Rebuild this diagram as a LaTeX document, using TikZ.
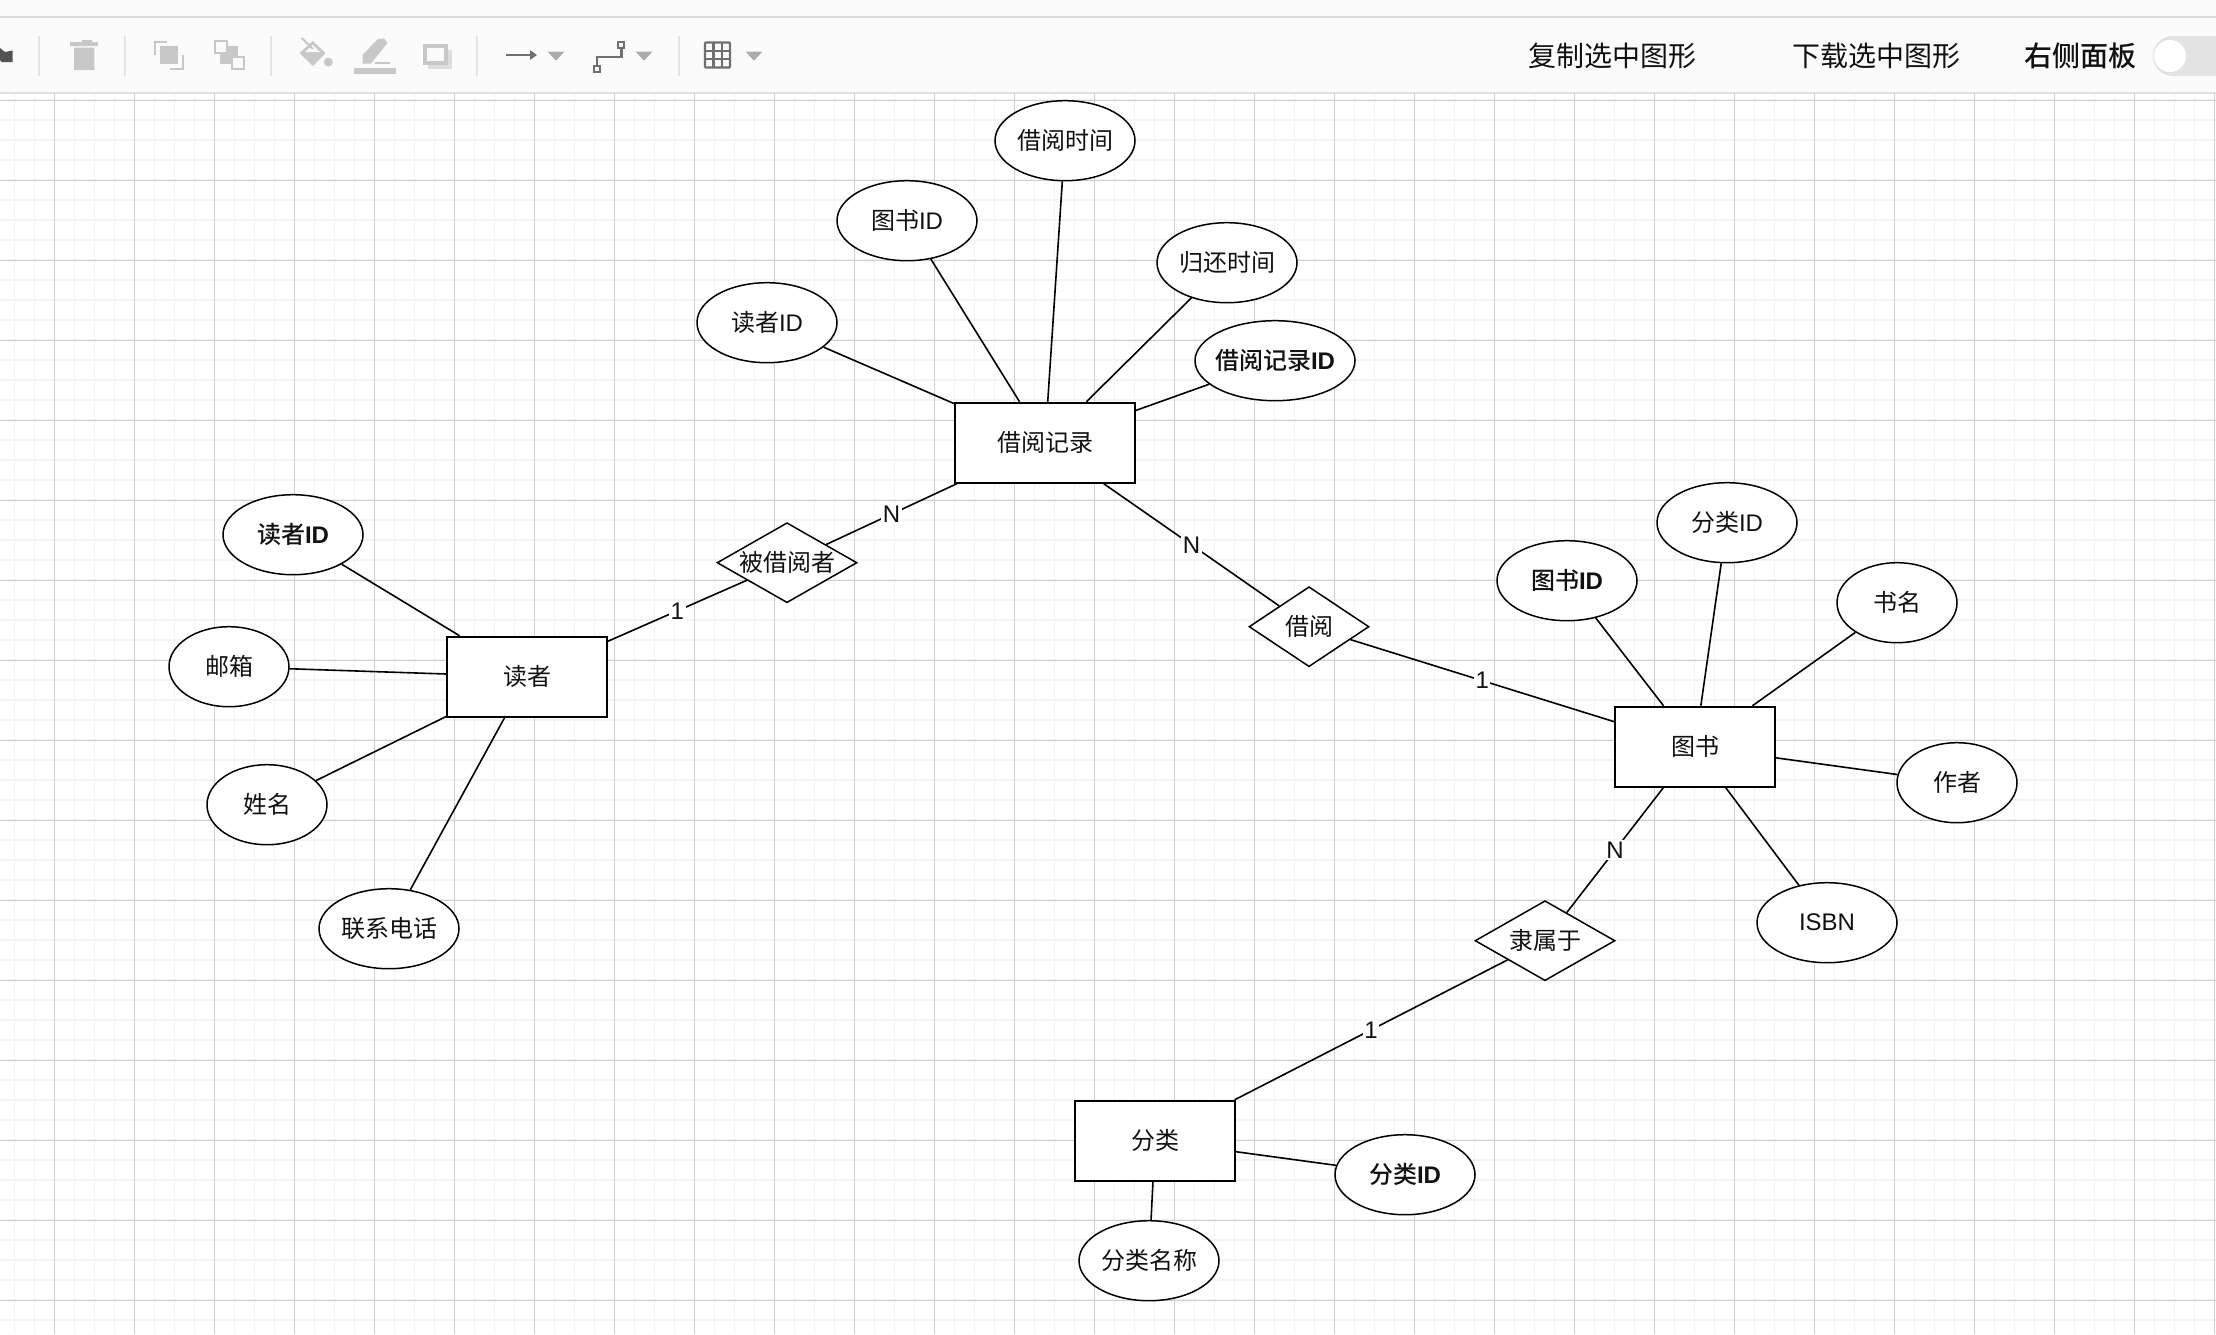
\documentclass[tikz,border=0pt]{standalone}
\usepackage{fontspec}
\setmainfont{Noto Sans CJK SC}[BoldFont={Noto Sans CJK SC Medium}]
\newfontfamily\latfont{Liberation Sans}
\usetikzlibrary{shapes.geometric}
\definecolor{barbg}{HTML}{FBFBFB}
\definecolor{barline}{HTML}{D8DADE}
\definecolor{gridminor}{HTML}{F3F3F3}
\definecolor{gridmajor}{HTML}{CFCFCF}
\definecolor{icongray}{HTML}{C8C8C8}
\definecolor{icondark}{HTML}{707070}
\definecolor{inkblack}{HTML}{111111}
\newcommand{\zerow}[1]{\makebox[0pt]{#1}}
\newcommand{\idtxt}{{\latfont ID}}
\tikzset{
  every node/.style={font=\fontsize{24}{28}\selectfont, text=inkblack},
  entity/.style={draw=black, line width=1.9pt, fill=white, rectangle, minimum width=160pt, minimum height=80pt, inner sep=0pt},
  attr/.style={draw=black, line width=1.5pt, fill=white, ellipse, minimum width=140pt, minimum height=80pt, inner sep=0pt},
  relation/.style={draw=black, line width=1.5pt, fill=white, diamond, minimum width=140pt, minimum height=80pt, inner sep=0pt},
  link/.style={line width=1.6pt, black},
  card/.style={midway, fill=white, inner sep=1.5pt, font=\fontsize{24}{24}\selectfont\latfont},
  sep/.style={line width=2pt, black!10},
  arrowdown/.style={fill=black!33},
  bartext/.style={font=\fontsize{28}{32}\selectfont}
}
\begin{document}
\begin{tikzpicture}[x=1pt,y=-1pt]
\useasboundingbox (0,0) rectangle (2216,1334);
\fill[white] (0,0) rectangle (2216,1334);
% grid
\foreach \x in {14.6,34.6,...,2216} \draw[line width=1.5pt, gridminor] (\x,93)--(\x,1334);
\foreach \y in {100,120,...,1334} \draw[line width=1.5pt, gridminor] (0,\y)--(2216,\y);
\foreach \x in {54.6,134.6,...,2216} \draw[line width=1pt, gridmajor] (\x,93)--(\x,1334);
\foreach \y in {100,180,...,1334} \draw[line width=1pt, gridmajor] (0,\y)--(2216,\y);
% toolbar
\fill[barbg] (0,0) rectangle (2216,92);
\draw[line width=2pt, barline] (0,16.5)--(2216,16.5);
\draw[line width=2pt, barline!85!white] (0,92.5)--(2216,92.5);
\foreach \x in {39,125,271,477,679} \draw[sep] (\x,36)--(\x,76);
% toolbar icons
\fill[black!68] (0,48)--(5,52)--(12.7,50.5)--(12.7,62)--(2,62)--(0,60)--cycle;
\fill[icongray] (70,42)rectangle(98,46) (82,40)rectangle(92,42) (74,47.5)rectangle(94.3,70);
\fill[icongray] (160,46) rectangle (178,64);
\draw[line width=2pt, icongray] (155,55)--(155,42)--(167,42) (183,55)--(183,69)--(170,69);
\fill[icongray] (220,46) rectangle (238,64);
\draw[line width=2pt, icongray, fill=barbg] (214.5,41) rectangle (227,53) (231.5,57) rectangle (243.5,69);
\fill[icongray] (312.7,41)--(299.5,53)--(313,66)--(325.7,53)--cycle;
\fill[barbg] (305,52)--(313,45)--(320,52)--cycle;
\draw[line width=2pt, icongray] (301.7,38)--(313,49);
\fill[icongray] (328.3,62) circle (4.5);
\fill[icongray] (362.5,63.5)--(362.5,55)--(378,39)--(384,38.5)--(387.5,43)--(371,63.5)--cycle;
\draw[line width=2pt, icongray] (375,62.7)--(390,62.7);
\fill[icongray] (354,67.7) rectangle (396,74);
\fill[black!13] (428,50) rectangle (452.3,69.3);
\draw[line width=4pt, icongray, fill=barbg] (424.7,46) rectangle (445.7,63);
\draw[line width=2.4pt, icondark] (506,55)--(533,55);
\fill[icondark] (530,50)--(537,55)--(530,60)--cycle;
\fill[arrowdown] (547.7,51.7)--(564.3,51.7)--(556,60.7)--cycle;
\draw[line width=2.4pt, icondark] (597,65)--(597,56.7)--(621.3,56.7)--(621.3,47);
\draw[line width=2pt, icondark] (594,66)rectangle(600,72) (618.3,42)rectangle(624.3,48);
\fill[arrowdown] (635.7,51.7)--(652.3,51.7)--(644,60.7)--cycle;
\draw[line width=2.4pt, icondark, rounded corners=1pt] (705,42.5) rectangle (730,67.5);
\draw[line width=2.4pt, icondark] (713.3,42.5)--(713.3,67.5) (721.7,42.5)--(721.7,67.5) (705,50.8)--(730,50.8) (705,59.2)--(730,59.2);
\fill[arrowdown] (745.7,51.7)--(762.3,51.7)--(754,60.7)--cycle;
% toolbar texts
\node[bartext] (copybtn) at (1612,56) {复制选中图形};
\node[bartext] (savebtn) at (1876.5,56) {下载选中图形};
\node[bartext] (panelbtn) at (2080,56) {\textbf{右侧面板}};
\fill[black!11, rounded corners=20pt] (2152.7,36) rectangle (2270,76);
\node[circle, fill=white, minimum size=32pt, inner sep=0pt] (knob) at (2170,56) {};
% nodes
\node[entity] (reader) at (527,676.7) {读者};
\node[entity, minimum width=180pt] (record) at (1045,442.7) {借阅记录};
\node[entity] (book) at (1695,746.7) {图书};
\node[entity] (category) at (1155,1140.7) {分类};
\node[relation] (borrowedby) at (787,562.7) {\zerow{被借阅者}};
\node[relation, minimum width=120pt] (borrows) at (1309,626.7) {\zerow{借阅}};
\node[relation] (belongs) at (1545,940.7) {\zerow{隶属于}};
% reader attributes
\node[attr] (rid) at (293,534.7) {\textbf{读者\idtxt}};
\node[attr, minimum width=120pt] (rmail) at (229,666.7) {邮箱};
\node[attr, minimum width=120pt] (rname) at (267,804.7) {姓名};
\node[attr] (rtel) at (389,928.7) {\zerow{联系电话}};
% record attributes
\node[attr] (jreader) at (767,322.7) {读者\idtxt};
\node[attr] (jbook) at (907,220.7) {图书\idtxt};
\node[attr] (jtime) at (1065,140.7) {\zerow{借阅时间}};
\node[attr] (jback) at (1227,262.7) {\zerow{归还时间}};
\node[attr, minimum width=160pt] (jid) at (1275,360.7) {\zerow{\textbf{借阅记录\idtxt}}};
% book attributes
\node[attr] (bid) at (1567,580.7) {\textbf{图书\idtxt}};
\node[attr] (bcat) at (1727,522.7) {分类\idtxt};
\node[attr, minimum width=120pt] (bname) at (1897,602.7) {书名};
\node[attr, minimum width=120pt] (bauthor) at (1957,782.7) {作者};
\node[attr] (bisbn) at (1827,922.7) {{\latfont ISBN}};
% category attributes
\node[attr] (cid) at (1405,1174.7) {\textbf{分类\idtxt}};
\node[attr] (cname) at (1149,1260.7) {\zerow{分类名称}};
% attribute lines
\foreach \a in {rid,rmail,rname,rtel} \draw[link] (\a)--(reader);
\foreach \a in {jreader,jbook,jtime,jback,jid} \draw[link] (\a)--(record);
\foreach \a in {bid,bcat,bname,bauthor,bisbn} \draw[link] (\a)--(book);
\foreach \a in {cid,cname} \draw[link] (\a)--(category);
% relations
\draw[link] (reader)--(borrowedby) node[card] (c1) {1};
\draw[link] (borrowedby)--(record) node[card] (c2) {N};
\draw[link] (record)--(borrows) node[card] (c3) {N};
\draw[link] (borrows)--(book) node[card] (c4) {1};
\draw[link] (book)--(belongs) node[card] (c5) {N};
\draw[link] (belongs)--(category) node[card] (c6) {1};
\end{tikzpicture}
\end{document}
